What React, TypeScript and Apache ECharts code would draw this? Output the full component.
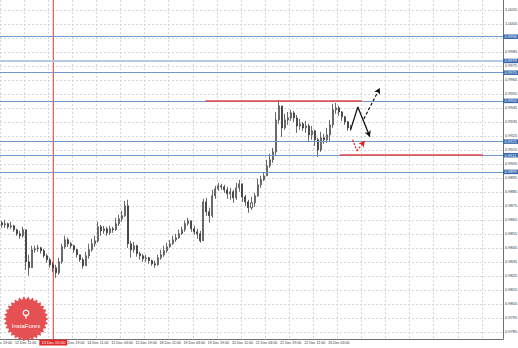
import React, { useEffect, useRef } from 'react';
import * as echarts from 'echarts';

// time axis labels, one every 8 bars (2-hour bars)
const timeLabels = ['11 Dec 19:00', '12 Dec 11:00', '13 Dec 03:00', '13 Dec 19:00', '14 Dec 11:00', '15 Dec 03:00', '15 Dec 19:00', '18 Dec 11:00', '19 Dec 03:00', '19 Dec 19:00', '20 Dec 11:00', '21 Dec 03:00', '21 Dec 19:00', '22 Dec 11:00', '26 Dec 03:00'];
const barsPerLabel = 8;
const slotCount = 167;
const separatorLabel = '13 Dec 05:00';
const separatorIndex = 17.2;

const priceTicks = [0.9785, 0.9795, 0.9805, 0.9815, 0.9825, 0.9835, 0.9845, 0.9855, 0.9865, 0.9875, 0.9885, 0.9895, 0.9905, 0.9915, 0.9925, 0.9935, 0.9945, 0.9955, 0.9965, 0.9975, 0.9985, 0.9995, 1.0005, 1.0015];

const firstOpen = 0.9863;
const closes = [
  0.98615, 0.98623, 0.98601, 0.98608, 0.9858, 0.98551, 0.98537, 0.9858, 0.98351, 0.98309,
  0.98437, 0.98444, 0.98451, 0.9843, 0.98394, 0.98366, 0.9833, 0.98309, 0.98273, 0.98351,
  0.98458, 0.98508, 0.9848, 0.98466, 0.98437, 0.98401, 0.98366, 0.98323, 0.98394, 0.98437,
  0.9848, 0.98501, 0.98601, 0.98572, 0.98587, 0.98558, 0.98587, 0.9858, 0.98623, 0.98658,
  0.9868, 0.98751, 0.9848, 0.98437, 0.98466, 0.98409, 0.98394, 0.98373, 0.9838, 0.98359,
  0.98337, 0.9833, 0.9838, 0.98401, 0.9843, 0.98458, 0.9848, 0.98508, 0.98523, 0.98551,
  0.9858, 0.98623, 0.98644, 0.98587, 0.98565, 0.98551, 0.98501, 0.98779, 0.98708, 0.9868,
  0.98822, 0.98872, 0.98893, 0.98886, 0.98865, 0.98836, 0.98851, 0.98808, 0.98879, 0.98908,
  0.98815, 0.98779, 0.98737, 0.98772, 0.98822, 0.98901, 0.98936, 0.98965, 0.99036, 0.99079,
  0.99136, 0.99364, 0.99464, 0.99307, 0.99364, 0.99378, 0.99414, 0.99378, 0.99321, 0.99336,
  0.99307, 0.99321, 0.99257, 0.99286, 0.99222, 0.9915, 0.99236, 0.99222, 0.99257, 0.99329,
  0.99436, 0.9945, 0.99421, 0.99386, 0.9935, 0.99307, 0.99309,
];
const highs = [
  0.98644, 0.98651, 0.9863, 0.98637, 0.98615, 0.98587, 0.98572, 0.98601, 0.98544, 0.98401,
  0.98466, 0.98466, 0.98473, 0.98458, 0.98444, 0.98409, 0.9838, 0.98351, 0.9833, 0.9838,
  0.9848, 0.98537, 0.98523, 0.98494, 0.98473, 0.98444, 0.98401, 0.9838, 0.98423, 0.9848,
  0.98515, 0.98537, 0.98637, 0.98615, 0.98608, 0.98601, 0.98608, 0.98601, 0.98665, 0.98687,
  0.98715, 0.98786, 0.98794, 0.98501, 0.98494, 0.98473, 0.98423, 0.98409, 0.98401, 0.98387,
  0.98366, 0.98359, 0.98401, 0.98437, 0.98466, 0.98487, 0.98508, 0.98537, 0.98551, 0.9858,
  0.98601, 0.98644, 0.98665, 0.98637, 0.98608, 0.98587, 0.98572, 0.98801, 0.98808, 0.98737,
  0.98865, 0.98893, 0.98915, 0.98908, 0.98901, 0.98886, 0.98879, 0.98865, 0.98915, 0.98936,
  0.98901, 0.98829, 0.98794, 0.98815, 0.98844, 0.98943, 0.98965, 0.98993, 0.99079, 0.99122,
  0.99164, 0.99421, 0.99507, 0.9945, 0.99407, 0.99421, 0.99436, 0.99428, 0.994, 0.99371,
  0.9935, 0.99357, 0.99336, 0.99321, 0.99293, 0.99236, 0.99279, 0.99264, 0.99307, 0.99364,
  0.99478, 0.99485, 0.99464, 0.99428, 0.99393, 0.99357, 0.99329,
];
const lows = [
  0.98594, 0.98594, 0.98587, 0.98587, 0.98565, 0.98537, 0.98515, 0.98523, 0.98294, 0.98252,
  0.98323, 0.98416, 0.98423, 0.98409, 0.9838, 0.98344, 0.98309, 0.9828, 0.98237, 0.98259,
  0.98337, 0.98444, 0.98458, 0.98444, 0.98416, 0.9838, 0.98351, 0.98302, 0.98323, 0.98373,
  0.98423, 0.98458, 0.98487, 0.98537, 0.98551, 0.98537, 0.98544, 0.98558, 0.98572, 0.98608,
  0.98637, 0.98672, 0.98451, 0.9838, 0.98416, 0.98387, 0.98366, 0.98351, 0.98351, 0.98337,
  0.98323, 0.98309, 0.98323, 0.98366, 0.98387, 0.98416, 0.98451, 0.98473, 0.98494, 0.98515,
  0.98544, 0.98565, 0.98608, 0.98565, 0.98544, 0.98515, 0.98487, 0.98508, 0.9868, 0.9863,
  0.98665, 0.98801, 0.98858, 0.98865, 0.98844, 0.98801, 0.98794, 0.98772, 0.98794, 0.98851,
  0.98779, 0.98751, 0.98701, 0.98722, 0.98744, 0.98815, 0.98879, 0.98929, 0.98972, 0.99022,
  0.99057, 0.99114, 0.99336, 0.99243, 0.99293, 0.99329, 0.99357, 0.9935, 0.99271, 0.99293,
  0.99286, 0.99271, 0.99214, 0.99222, 0.99179, 0.991, 0.99136, 0.99193, 0.992, 0.99214,
  0.99307, 0.99407, 0.99393, 0.99357, 0.99329, 0.99286, 0.99286,
];

// horizontal levels (blue lines with price boxes)
const levelLines = [0.99958, 0.99785, 0.99701, 0.995, 0.99209, 0.99112, 0.98993];
const currentPrice = 0.99309;

// drawn annotations: [bar index, price]
const resistanceSeg = [[67.7, 0.995], [119.6, 0.995]];
const supportSeg = [[112.3, 0.99112], [159.8, 0.99112]];
const mainArrow = [[115.9, 0.99293], [118.3, 0.99457], [122.3, 0.99243]];
const breakoutArrow = [[120.3, 0.99371], [125.6, 0.99592]];
const pullbackArrow = [[116.6, 0.99222], [118.0, 0.99143], [120.6, 0.99214]];

const FONT = 'Liberation Sans, Arial, sans-serif';
const X_MIN = -0.5;
const X_MAX = slotCount - 0.5;
const Y_MIN = 0.978;
const Y_MAX = 1.0022;

function segments(points: number[][], arrowAtEnd: boolean) {
  const out: any[] = [];
  for (let i = 0; i < points.length - 1; i++) {
    const last = i === points.length - 2;
    out.push([
      { coord: points[i], symbol: 'none' },
      { coord: points[i + 1], symbol: last && arrowAtEnd ? 'arrow' : 'none', symbolSize: [5, 6] },
    ]);
  }
  return out;
}

function annotation(name: string, data: any[], color: string, width: number, type: any, z = 3) {
  return {
    name,
    type: 'line',
    xAxisIndex: 1,
    yAxisIndex: 0,
    data: [],
    silent: true,
    z,
    markLine: {
      silent: true,
      animation: false,
      symbol: ['none', 'none'],
      label: { show: false },
      emphasis: { disabled: true },
      lineStyle: { color, width, type },
      data,
    },
  };
}

const boxLabel = (text: string, bg: string) => ({
  show: true,
  position: 'end',
  distance: 0,
  formatter: text,
  backgroundColor: bg,
  color: '#fff',
  fontSize: 4,
  fontFamily: FONT,
  padding: [0.5, 1.5, 0, 1.5],
});

export default function App() {
  const ref = useRef<HTMLDivElement>(null);
  useEffect(() => {
    document.body.style.margin = '0';
    const chart = echarts.init(ref.current!, null, { renderer: 'svg' });
    const categories = Array.from({ length: slotCount }, (_, i) => String(i));
    const candles = closes.map((c, i) => {
      const o = i === 0 ? firstOpen : closes[i - 1];
      return [o, c, Math.min(lows[i], o, c), Math.max(highs[i], o, c)];
    });
    const separatorSlot = Math.round(separatorIndex / barsPerLabel) * barsPerLabel;

    const levelData = levelLines.map((v, k) => [
      { coord: [X_MIN, v], symbol: 'none', lineStyle: { color: k === 1 ? '#b4c9e4' : '#7099c9', width: k === 1 ? 2 : 1, type: 'solid' } },
      { coord: [X_MAX, v], symbol: 'none', label: boxLabel(v.toFixed(4), '#3666ad') },
    ]);
    levelData.push([
      { coord: [X_MIN, currentPrice], symbol: 'none', lineStyle: { opacity: 0, width: 1 } } as any,
      { coord: [X_MAX, currentPrice], symbol: 'none', label: boxLabel(currentPrice.toFixed(4), '#111') } as any,
    ]);

    const starPts: number[][] = [];
    const cx = 26, cy = 319, spikes = 30;
    for (let k = 0; k < spikes * 2; k++) {
      const r = k % 2 === 0 ? 22.5 : 19.5;
      const a = (Math.PI * k) / spikes;
      starPts.push([cx + r * Math.cos(a), cy + r * Math.sin(a)]);
    }

    const gridLine = { color: '#d6d6d6', type: [2, 2] as any, width: 1 };

    chart.setOption({
      animation: false,
      backgroundColor: '#ffffff',
      textStyle: { fontFamily: FONT },
      grid: { left: 0, top: 0, right: 15, bottom: 9, containLabel: false, outerBoundsMode: 'none' },
      xAxis: [
        {
          type: 'category',
          data: categories,
          boundaryGap: true,
          axisLine: { onZero: false, lineStyle: { color: '#707070', width: 1 } },
          axisTick: { show: false },
          axisLabel: {
            interval: barsPerLabel - 1,
            fontSize: 3.6,
            color: '#333',
            margin: 2,
            fontFamily: FONT,
            formatter: (_v: string, i: number) =>
              i % barsPerLabel === 0 && i !== separatorSlot ? timeLabels[i / barsPerLabel] || '' : '',
          },
          splitLine: { show: true, interval: barsPerLabel - 1, lineStyle: gridLine },
        },
        {
          type: 'value',
          min: X_MIN,
          max: X_MAX,
          show: false,
          axisLine: { show: false, onZero: false },
          splitLine: { show: false },
        },
      ],
      yAxis: {
        type: 'value',
        position: 'right',
        min: Y_MIN,
        max: Y_MAX,
        axisLine: { show: true, onZero: false, lineStyle: { color: '#707070', width: 1 } },
        axisTick: { show: false, customValues: priceTicks },
        axisLabel: {
          customValues: priceTicks,
          fontSize: 4,
          color: '#333',
          margin: 2,
          fontFamily: FONT,
          formatter: (v: number) => v.toFixed(4),
        },
        splitLine: { show: true, lineStyle: gridLine },
      },
      series: [
        {
          name: 'price',
          type: 'candlestick',
          data: candles,
          barMaxWidth: 1.6,
          silent: true,
          z: 4,
          itemStyle: { color: '#ffffff', color0: '#2a2a2a', borderColor: '#2a2a2a', borderColor0: '#2a2a2a', borderWidth: 0.7 },
        },
        {
          name: 'separator',
          type: 'line',
          xAxisIndex: 1,
          yAxisIndex: 0,
          silent: true,
          z: 3,
          symbol: 'none',
          showSymbol: false,
          clip: false,
          color: '#ee3333',
          lineStyle: { color: '#ee3333', width: 1 },
          emphasis: { disabled: true },
          data: [
            [separatorIndex, Y_MIN],
            [separatorIndex, Y_MAX],
          ],
          markPoint: {
            silent: true,
            animation: false,
            symbol: 'rect',
            symbolSize: [28, 6],
            symbolOffset: [0, 3.5],
            itemStyle: { color: '#e02a2a' },
            label: {
              show: true,
              position: 'inside',
              formatter: separatorLabel,
              color: '#fff',
              fontSize: 4,
              fontFamily: FONT,
            },
            data: [{ coord: [separatorIndex, Y_MIN] }],
          },
        },
        annotation('levels', levelData, '#7099c9', 1, 'solid', 2),
        annotation('resistance', segments(resistanceSeg, false), '#e8474b', 1.5, 'solid', 5),
        annotation('support', segments(supportSeg, false), '#e8474b', 1.5, 'solid', 5),
        annotation('main', segments(mainArrow, true), '#111', 1.3, 'solid', 6),
        annotation('breakout', segments(breakoutArrow, true), '#111', 1.2, [3, 2], 6),
        annotation('pullback', segments(pullbackArrow, true), '#e02020', 1.2, [2, 1.5], 6),
      ],
      graphic: [
        {
          type: 'polygon',
          z: 100,
          silent: true,
          shape: { points: starPts },
          style: { fill: '#e4474a', opacity: 0.95 },
        },
        {
          type: 'ring',
          z: 101,
          silent: true,
          shape: { cx: 26, cy: 313, r: 3.4, r0: 2.2 },
          style: { fill: '#fff' },
        },
        {
          type: 'line',
          z: 101,
          silent: true,
          shape: { x1: 26, y1: 314, x2: 26, y2: 319 },
          style: { stroke: '#fff', lineWidth: 1 },
        },
        {
          type: 'text',
          z: 101,
          silent: true,
          style: {
            text: 'InstaForex',
            x: 26,
            y: 325.5,
            align: 'center',
            verticalAlign: 'middle',
            fill: '#fff',
            fontSize: 6,
            fontFamily: FONT,
          },
        },
      ],
    });
    return () => chart.dispose();
  }, []);
  return <div ref={ref} style={{ width: 518, height: 348 }} />;
}
